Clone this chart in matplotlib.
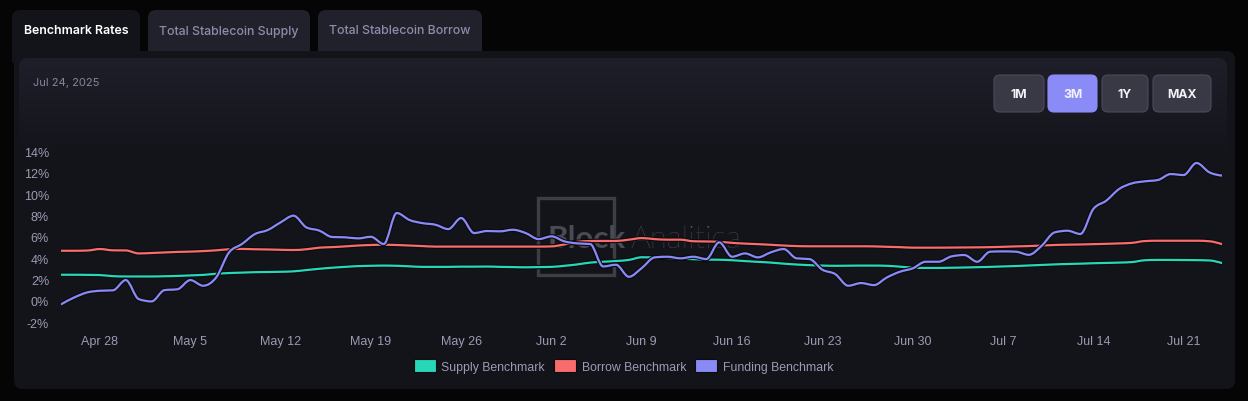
import numpy as np
import pandas as pd
import matplotlib
matplotlib.use("Agg")
import matplotlib.pyplot as plt
import matplotlib.dates as mdates
from matplotlib.patches import FancyBboxPatch, Rectangle, Patch, PathPatch
from matplotlib.path import Path
import matplotlib.patheffects as pe

# ---------------- data ----------------
dates = pd.date_range("2025-04-25", "2025-07-24", freq="D")

supply = [2.46, 2.46, 2.45, 2.43, 2.33, 2.30, 2.30, 2.30, 2.32, 2.35,
          2.40, 2.45, 2.55, 2.62, 2.66, 2.70, 2.72, 2.74, 2.78, 2.90,
          3.02, 3.12, 3.20, 3.27, 3.30, 3.32, 3.30, 3.25, 3.20, 3.20,
          3.20, 3.22, 3.22, 3.23, 3.20, 3.18, 3.16, 3.18, 3.20, 3.30,
          3.43, 3.60, 3.68, 3.75, 3.85, 4.10, 4.08, 4.03, 3.97, 3.92,
          3.88, 3.87, 3.82, 3.74, 3.67, 3.60, 3.50, 3.42, 3.36, 3.32,
          3.30, 3.31, 3.32, 3.32, 3.30, 3.22, 3.13, 3.10, 3.10, 3.12,
          3.14, 3.17, 3.20, 3.24, 3.28, 3.33, 3.38, 3.43, 3.47, 3.50,
          3.54, 3.57, 3.60, 3.65, 3.82, 3.85, 3.85, 3.84, 3.83, 3.80,
          3.55]

borrow = [4.71, 4.71, 4.73, 4.87, 4.75, 4.74, 4.46, 4.50, 4.55, 4.60,
          4.63, 4.68, 4.75, 4.85, 4.88, 4.85, 4.83, 4.80, 4.78, 4.85,
          5.00, 5.05, 5.12, 5.20, 5.25, 5.27, 5.25, 5.20, 5.15, 5.10,
          5.10, 5.10, 5.10, 5.10, 5.10, 5.10, 5.10, 5.10, 5.12, 5.30,
          5.55, 5.62, 5.63, 5.63, 5.75, 5.90, 5.80, 5.75, 5.75, 5.60,
          5.58, 5.55, 5.45, 5.38, 5.33, 5.27, 5.20, 5.15, 5.13, 5.13,
          5.13, 5.13, 5.13, 5.12, 5.08, 5.05, 5.00, 5.00, 5.00, 5.01,
          5.02, 5.03, 5.05, 5.08, 5.12, 5.15, 5.20, 5.25, 5.28, 5.30,
          5.33, 5.36, 5.40, 5.45, 5.62, 5.65, 5.65, 5.65, 5.65, 5.60,
          5.32]

funding = [-0.30, 0.33, 0.80, 0.96, 1.00, 1.96, 0.18, -0.04, 1.02, 1.10,
           1.96, 1.43, 2.20, 4.55, 5.34, 6.27, 6.65, 7.37, 8.00, 6.90,
           6.60, 6.00, 5.97, 5.87, 6.02, 5.34, 8.25, 7.59, 7.30, 7.15,
           6.74, 7.78, 6.37, 6.56, 6.53, 6.68, 6.37, 5.80, 6.06, 5.59,
           5.40, 5.34, 3.24, 3.40, 2.27, 3.09, 4.09, 4.15, 4.00, 4.15,
           3.93, 5.50, 4.15, 4.46, 4.09, 4.56, 4.87, 4.00, 3.93, 2.93,
           2.52, 1.43, 1.68, 1.49, 2.21, 2.74, 3.06, 3.68, 3.68, 4.18,
           4.31, 3.68, 4.62, 4.65, 4.62, 4.33, 5.18, 6.43, 6.59, 6.28,
           8.62, 9.40, 10.50, 11.03, 11.22, 11.34, 11.90, 11.81, 12.94, 12.06,
           11.75]

series_names = ["Supply Benchmark", "Borrow Benchmark", "Funding Benchmark"]
series_colors = ["#27d8b8", "#f86c6c", "#8a8af6"]
y_ticks = [-2, 0, 2, 4, 6, 8, 10, 12, 14]
x_tick_dates = pd.date_range("2025-04-28", "2025-07-21", freq="7D")
tabs = ["Benchmark Rates", "Total Stablecoin Supply", "Total Stablecoin Borrow"]
buttons = ["1M", "3M", "1Y", "MAX"]
date_label = "Jul 24, 2025"


def monotone_path(x, y):
    """Smooth monotone-X cubic Bezier path through the data points."""
    x = np.asarray(x, float)
    y = np.asarray(y, float)
    n = len(x)
    h = np.diff(x)
    s = np.diff(y) / h
    m = np.zeros(n)
    for i in range(1, n - 1):
        s0, s1 = s[i - 1], s[i]
        p = (s0 * h[i] + s1 * h[i - 1]) / (h[i - 1] + h[i])
        m[i] = (np.sign(s0) + np.sign(s1)) * min(abs(s0), abs(s1), 0.5 * abs(p))
    m[0] = (3 * s[0] - m[1]) / 2
    m[-1] = (3 * s[-1] - m[-2]) / 2
    verts = [(x[0], y[0])]
    codes = [Path.MOVETO]
    for i in range(n - 1):
        d = h[i] / 3
        verts += [(x[i] + d, y[i] + m[i] * d), (x[i + 1] - d, y[i + 1] - m[i + 1] * d),
                  (x[i + 1], y[i + 1])]
        codes += [Path.CURVE4] * 3
    return Path(verts, codes)


# ---------------- figure ----------------
W, H = 1248, 402
fig = plt.figure(figsize=(W / 100, H / 100), dpi=100)
fig.patch.set_facecolor("#050506")

bg = fig.add_axes([0, 0, 1, 1], zorder=0)
bg.set_xlim(0, W)
bg.set_ylim(H, 0)
bg.axis("off")

CARD = "#13131a"
TAB_OFF = "#21212c"


def rbox(x0, y0, x1, y1, r, fc, ec="none", lw=0, z=1):
    p = FancyBboxPatch((x0 + r, y0 + r), (x1 - x0) - 2 * r, (y1 - y0) - 2 * r,
                       boxstyle=f"round,pad={r}", fc=fc, ec=ec, lw=lw, zorder=z)
    bg.add_patch(p)
    return p


# tabs
tab_boxes = [(12, 140), (148, 310), (318, 482)]
for i, ((x0, x1), name) in enumerate(zip(tab_boxes, tabs)):
    rbox(x0, 11, x1, 66, 8, CARD if i == 0 else TAB_OFF, z=1)
    bg.text((x0 + x1) / 2, 31.5, name, ha="center", va="center",
            fontsize=8.9, family="Inter",
            weight="semibold" if i == 0 else "medium",
            color="#ffffff" if i == 0 else "#8d8dab", zorder=3)

# card
rbox(14, 52, 1235, 390, 9, CARD, z=2)
bg.add_patch(Rectangle((12, 52), 130, 12, fc=CARD, ec="none", zorder=2))

# inner gradient panel
panel = rbox(19, 59, 1227, 160, 9, "none", z=2)
grad = np.linspace(0, 1, 100)[:, None]
c_top = np.array([0x1f, 0x1f, 0x2a]) / 255
c_bot = np.array([0x13, 0x13, 0x1a]) / 255
img = c_top[None, None, :] * (1 - grad[..., None]) + c_bot[None, None, :] * grad[..., None]
img = np.repeat(img, 2, axis=1)
im = bg.imshow(img, extent=(19, 1227, 160, 59), aspect="auto", zorder=2.1,
               interpolation="bilinear")
im.set_clip_path(panel)
bg.set_xlim(0, W)
bg.set_ylim(H, 0)

bg.text(33, 83, date_label, ha="left", va="center", fontsize=8,
        family="Inter", color="#85859c", zorder=3)

# buttons
btn_boxes = [(994, 1044), (1048, 1097), (1102, 1148), (1153, 1211)]
for i, ((x0, x1), b) in enumerate(zip(btn_boxes, buttons)):
    active = (i == 1)
    rbox(x0, 76, x1, 113, 6, "#8b8bf7" if active else "#393946",
         ec="#8b8bf7" if active else "#4a4a5a", lw=0.8, z=3)
    bg.text((x0 + x1) / 2, 95, b, ha="center", va="center", fontsize=8.8,
            family="Inter", weight="bold", color="#f2f2f7", zorder=4)

# watermark
bg.add_patch(Rectangle((537.5, 199), 76, 77, fc="none", ec="#3d3d46",
                       lw=2.4, zorder=3))
bg.text(548, 248, "Block", ha="left", va="baseline", fontsize=22.5,
        family="Lato", weight="bold", color="#4a4a53", zorder=3)
bg.text(630, 248, "Analitica", ha="left", va="baseline", fontsize=22.5,
        family="Lato", weight="light", color="#62626b", zorder=3)

# ---------------- chart axes ----------------
x_left, x_right = 61.3, 1222.3
y_top, y_bot = 142.0, 334.0
ax = fig.add_axes([x_left / W, 1 - y_bot / H, (x_right - x_left) / W, (y_bot - y_top) / H],
                  zorder=1)
ax.patch.set_alpha(0)
for s in ax.spines.values():
    s.set_visible(False)

xnum = mdates.date2num(dates)
for vals, col in zip([supply, borrow, funding], series_colors):
    pp = PathPatch(monotone_path(xnum, vals), fill=False, ec=col, lw=1.6,
                   joinstyle="round", capstyle="round",
                   path_effects=[pe.Stroke(linewidth=3.2, foreground="#0a0a0f"), pe.Normal()])
    ax.add_patch(pp)

ax.set_xlim(dates[0], dates[-1])
ax.set_ylim(-3, 15)
ax.set_yticks(y_ticks)
ax.set_yticklabels([f"{v}%" for v in y_ticks])
ax.set_xticks(x_tick_dates)
ax.xaxis.set_major_formatter(mdates.DateFormatter("%b %-d"))
ax.tick_params(axis="both", length=0, labelcolor="#9b9bb3", labelsize=9)
ax.tick_params(axis="y", pad=8.8)
ax.tick_params(axis="x", pad=1.5)
for lab in ax.get_xticklabels() + ax.get_yticklabels():
    lab.set_family("Liberation Sans")

handles = [Patch(facecolor=c, edgecolor="#0c0c12", lw=0.8) for c in series_colors]
leg = fig.legend(handles, series_names, loc="center",
                 bbox_to_anchor=(623.5 / W, 1 - 367 / H), ncol=3, frameon=False,
                 handlelength=1.8, handleheight=1.15,
                 handletextpad=0.45, columnspacing=0.75, borderpad=0,
                 prop={"family": "Liberation Sans", "size": 8.8})
for t in leg.get_texts():
    t.set_color("#9b9bb6")

fig.savefig("out.png", dpi=100, facecolor=fig.get_facecolor())
